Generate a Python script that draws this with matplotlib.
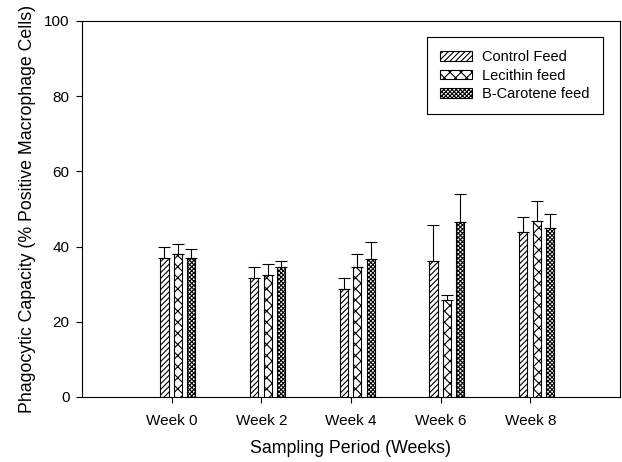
import numpy as np
import matplotlib.pyplot as plt

plt.rcParams['font.family'] = ['Liberation Sans', 'DejaVu Sans']
plt.rcParams['hatch.linewidth'] = 0.8

weeks = ['Week 0', 'Week 2', 'Week 4', 'Week 6', 'Week 8']
series = ['Control Feed', 'Lecithin feed', 'B-Carotene feed']
control = [37.0, 31.7, 28.6, 36.3, 44.0]
control_err = [3.0, 3.0, 3.1, 9.5, 4.0]
lecithin = [38.1, 32.5, 34.6, 25.7, 46.7]
lecithin_err = [2.7, 2.9, 3.4, 1.5, 5.3]
carotene = [37.0, 34.7, 36.8, 46.5, 45.0]
carotene_err = [2.4, 1.6, 4.4, 7.5, 3.7]

hatches = ['//////', 'xxx', 'xxxxxxxx']
values = [control, lecithin, carotene]
errors = [control_err, lecithin_err, carotene_err]
# SigmaPlot puts the tick between the first two bars
offsets = [-0.08, 0.07, 0.22]

fig = plt.figure(figsize=(6.22, 4.62), dpi=100)
ax = fig.add_axes([0.1318, 0.1407, 0.865, 0.8139])

x = np.arange(1, len(weeks) + 1)
width = 0.09
for i, (vals, errs) in enumerate(zip(values, errors)):
    pos = x + offsets[i]
    ax.bar(pos, vals, width, color='white', edgecolor='black', linewidth=0.8,
           hatch=hatches[i], label=series[i])
    ax.errorbar(pos, vals, yerr=[np.zeros(len(errs)), errs], fmt='none',
                ecolor='black', elinewidth=0.8, capsize=4, capthick=0.8)

ax.set_xlim(0, 6)
ax.set_ylim(0, 100)
ax.set_xticks(x)
ax.set_xticklabels(weeks, fontsize=11)
ax.set_yticks([0, 20, 40, 60, 80, 100])
ax.tick_params(axis='y', labelsize=11, direction='out', length=4, pad=5)
ax.tick_params(axis='x', direction='out', length=4, pad=8)
for s in ax.spines.values():
    s.set_linewidth(0.8)

ax.set_xlabel('Sampling Period (Weeks)', fontsize=12.8, labelpad=9)
ax.set_ylabel('Phagocytic Capacity (% Positive Macrophage Cells)', fontsize=12.8, labelpad=6)

leg = ax.legend(loc='upper right', bbox_to_anchor=(0.968, 0.957), borderaxespad=0,
                fancybox=False, edgecolor='black', framealpha=1, fontsize=10.5,
                handlelength=2.2, handleheight=0.65, handletextpad=0.7,
                labelspacing=0.3, borderpad=0.9)
leg.get_frame().set_linewidth(0.8)

fig.savefig('out.png', dpi=100)
